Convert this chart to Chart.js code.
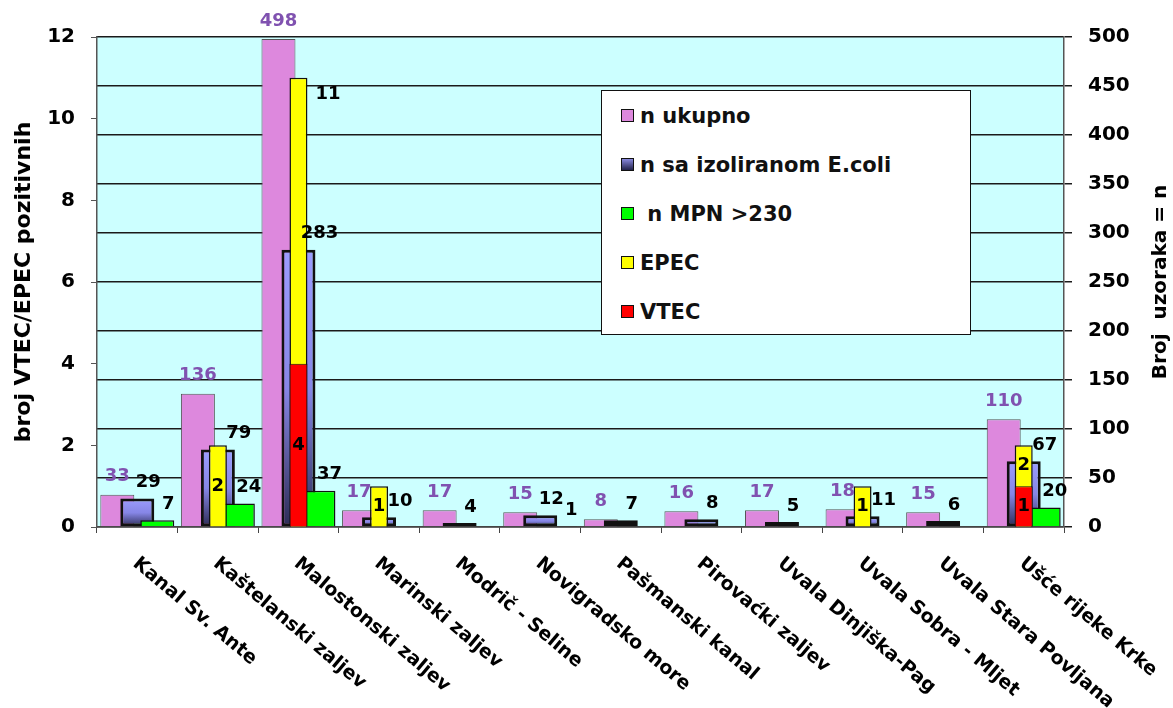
<!DOCTYPE html>
<html>
<head>
<meta charset="utf-8">
<script src="https://cdn.jsdelivr.net/npm/chart.js@4.4.1/dist/chart.umd.min.js"></script>
<style>
  body { margin: 0; background: #fff; }
  #wrap { position: relative; width: 1173px; height: 708px; }
  #legend {
    position: absolute; left: 601px; top: 90px; width: 368px; height: 243px;
    background: #fff; border: 1.5px solid #111;
    font: bold 21px "DejaVu Sans", sans-serif; color: #111;
  }
  #legend .item { height: 49px; display: flex; align-items: center; white-space: pre; }
  #legend .box { width: 11px; height: 11px; border: 1.5px solid #111; margin-left: 19px; margin-right: 6px; }
</style>
</head>
<body>
<div id="wrap">
  <canvas id="chart" width="1173" height="708"></canvas>
  <div id="legend"></div>
</div>
<script>
const labels = ['Kanal Sv. Ante', 'Kaštelanski zaljev', 'Malostonski zaljev', 'Marinski zaljev',
  'Modrič - Seline', 'Novigradsko more', 'Pašmanski kanal', 'Pirovaćki zaljev',
  'Uvala Dinjiška-Pag', 'Uvala Sobra - Mljet', 'Uvala Stara Povljana', 'Ušće rijeke Krke'];

const n_total = [33, 136, 498, 17, 17, 15, 8, 16, 17, 18, 15, 110];
const n_ecoli = [29, 79, 283, 10, 4, 12, 7, 8, 5, 11, 6, 67];
const n_mpn   = [7, 24, 37, 0, 0, 1, 0, 0, 0, 0, 0, 20];
const epec    = [0, 2, 11, 1, 0, 0, 0, 0, 0, 1, 0, 2];
const vtec    = [0, 0, 4, 0, 0, 0, 0, 0, 0, 0, 0, 1];

Chart.defaults.font.family = '"DejaVu Sans", sans-serif';
Chart.defaults.color = '#000';

// blue bars fade from light at the top to dark navy at the base
function ecoliFill(c) {
  const chart = c.chart;
  if (c.type !== 'data' || !chart.chartArea) return '#8080dd';
  const y2 = chart.scales.y2;
  const g = chart.ctx.createLinearGradient(0, y2.getPixelForValue(c.raw), 0, y2.getPixelForValue(0));
  g.addColorStop(0, '#9c9cff');
  g.addColorStop(0.5, '#8686e6');
  g.addColorStop(1, '#2c2c55');
  return g;
}

const plotBackground = {
  id: 'plotBackground',
  beforeDraw(chart) {
    const {ctx, chartArea: a} = chart;
    ctx.save();
    ctx.fillStyle = '#ccffff';
    ctx.fillRect(a.left, a.top, a.right - a.left, a.bottom - a.top);
    ctx.restore();
  }
};

const barLabels = {
  id: 'barLabels',
  afterDatasetsDraw(chart) {
    const ctx = chart.ctx;
    const redIndex = chart.data.datasets.findIndex(d => d.label === 'VTEC');
    const redBars = chart.getDatasetMeta(redIndex).data;
    ctx.save();
    ctx.font = 'bold 18px "DejaVu Sans"';
    chart.data.datasets.forEach((ds, i) => {
      if (!ds.labelStyle) return;
      chart.getDatasetMeta(i).data.forEach((bar, j) => {
        const v = ds.data[j];
        if (!v) return;
        ctx.fillStyle = '#000';
        ctx.textAlign = 'center';
        ctx.textBaseline = 'middle';
        if (ds.labelStyle === 'above') {
          ctx.fillStyle = '#8052b0';
          ctx.textBaseline = 'bottom';
          ctx.fillText(v, bar.x, bar.y - 9);
        } else if (ds.labelStyle === 'corner') {
          // pushed a bit further right when a yellow bar stands in front
          const shift = (ds.label.includes('E.coli') && epec[j]) ? 4 : -6;
          ctx.textBaseline = 'bottom';
          ctx.fillText(v, bar.x + bar.width / 2 + shift, bar.y - 7);
        } else if (ds.labelStyle === 'epec') {
          const low = vtec[j] ? redBars[j].y : bar.base;
          if (low - bar.y > 120) {
            ctx.textAlign = 'left';
            ctx.fillText(v, bar.x + bar.width / 2 + 8, bar.y + 16);
          } else {
            ctx.fillText(v, bar.x, (bar.y + low) / 2);
          }
        } else {
          ctx.fillText(v, bar.x, (bar.y + bar.base) / 2);
        }
      });
    });
    ctx.restore();
  }
};

const axisText = {
  id: 'axisText',
  afterDraw(chart) {
    const {ctx, scales: {x}, chartArea} = chart;
    ctx.save();
    ctx.fillStyle = '#000';
    ctx.font = 'bold 19px "DejaVu Sans"';
    ctx.textAlign = 'left';
    ctx.textBaseline = 'top';
    labels.forEach((text, i) => {
      ctx.save();
      ctx.translate(x.getPixelForValue(i) + 4, chartArea.bottom + 27);
      ctx.rotate(0.7);
      ctx.fillText(text, 0, 0);
      ctx.restore();
    });
    // right axis title reads bottom to top, like the left one
    ctx.font = 'bold 20px "DejaVu Sans"';
    ctx.textAlign = 'center';
    ctx.textBaseline = 'middle';
    ctx.translate(1161, (chartArea.top + chartArea.bottom) / 2);
    ctx.rotate(-Math.PI / 2);
    ctx.fillText('Broj  uzoraka = n', 0, 0);
    ctx.restore();
  }
};

const chart = new Chart(document.querySelector('#chart'), {
  type: 'bar',
  data: {
    labels: labels,
    datasets: [
      { label: 'n ukupno', data: n_total, yAxisID: 'y2', stack: 'total', order: 5,
        backgroundColor: '#dd88dd', borderColor: '#555', borderWidth: 1,
        barPercentage: 1.7, categoryPercentage: 0.744, labelStyle: 'above', swatch: '#dd88dd' },
      { label: 'n sa izoliranom E.coli', data: n_ecoli, yAxisID: 'y2', stack: 'ecoli', order: 4,
        backgroundColor: ecoliFill, borderColor: '#111', borderWidth: 3, borderSkipped: false,
        barPercentage: 1.7, categoryPercentage: 0.744, labelStyle: 'corner',
        swatch: 'linear-gradient(#8888dd, #22224a)' },
      { label: ' n MPN >230', data: n_mpn, yAxisID: 'y2', stack: 'mpn', order: 3,
        backgroundColor: '#00ff00', borderColor: '#111', borderWidth: 1.5,
        barPercentage: 1.7, categoryPercentage: 0.744, labelStyle: 'corner', swatch: '#00ff00' },
      { label: 'EPEC', data: epec, yAxisID: 'y', stack: 'ecoli', order: 2,
        backgroundColor: '#ffff00', borderColor: '#111', borderWidth: 1.5,
        barPercentage: 0.9, categoryPercentage: 0.744, labelStyle: 'epec', swatch: '#ffff00' },
      { label: 'VTEC', data: vtec, yAxisID: 'y', stack: 'ecoli', order: 1,
        backgroundColor: '#ff0000', borderColor: '#111', borderWidth: 1,
        barPercentage: 0.9, categoryPercentage: 0.744, labelStyle: 'inside', swatch: '#ff0000' },
      // empty set, only claims the first slot so the pink bars sit left but still draw behind
      { data: [], yAxisID: 'y2', stack: 'total', order: 0,
        barPercentage: 1.7, categoryPercentage: 0.744 }
    ]
  },
  plugins: [plotBackground, barLabels, axisText],
  options: {
    responsive: false,
    animation: false,
    layout: { padding: { top: 37, left: 0, right: 0, bottom: 0 } },
    plugins: {
      legend: { display: false },
      tooltip: { enabled: false }
    },
    scales: {
      x: {
        grid: { drawOnChartArea: false, tickLength: 6, color: '#444' },
        border: { color: '#444', width: 1.5 },
        ticks: { display: false },
        afterFit: s => { s.height = 181; }
      },
      y: {
        position: 'left', min: 0, max: 12, stacked: false,
        ticks: { stepSize: 2, padding: 16, font: { size: 20, weight: 'bold' } },
        grid: { drawOnChartArea: false, tickLength: 6, color: '#555' },
        border: { color: '#555', width: 1.5 },
        title: { display: true, text: 'broj VTEC/EPEC pozitivnih',
          font: { size: 22, weight: 'bold' }, padding: { top: 11, bottom: 0 } },
        afterFit: s => { s.width = 97; }
      },
      y2: {
        position: 'right', min: 0, max: 500, stacked: false,
        ticks: { stepSize: 50, padding: 16, font: { size: 20, weight: 'bold' } },
        grid: { color: '#1a1a1a', lineWidth: 1.5, tickLength: 8 },
        border: { color: '#555', width: 1.5 },
        afterFit: s => { s.width = 109; }
      }
    }
  }
});

const legend_box = document.querySelector('#legend');
chart.data.datasets.forEach(ds => {
  if (!ds.label) return;
  const row = document.createElement('div');
  row.className = 'item';
  const box = document.createElement('span');
  box.className = 'box';
  box.style.background = ds.swatch;
  row.appendChild(box);
  row.appendChild(document.createTextNode(ds.label));
  legend_box.appendChild(row);
});
</script>
</body>
</html>
